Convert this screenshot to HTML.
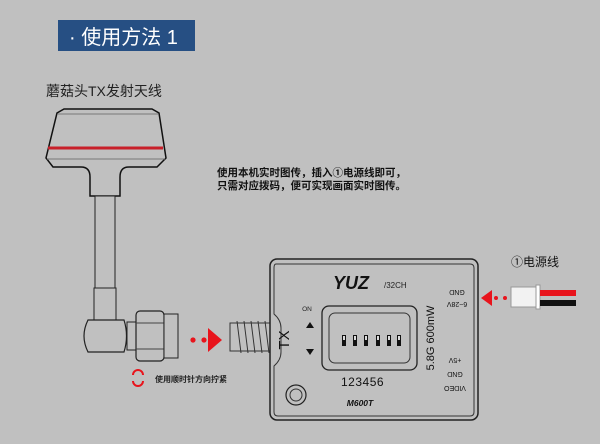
<!DOCTYPE html>
<html><head><meta charset="utf-8"><style>
html,body{margin:0;padding:0;background:#c0c0c0;}
svg{display:block}
</style></head><body>
<svg width="600" height="444" viewBox="0 0 600 444" xmlns="http://www.w3.org/2000/svg" font-family="Liberation Sans, Noto Sans CJK SC, sans-serif">
<rect width="600" height="444" fill="#c0c0c0"/>
<rect x="58" y="20" width="137" height="31" fill="#264f83"/>
<text x="69" y="44" font-size="20" fill="#fff">· 使用方法  1</text>
<text x="46" y="96" font-size="14" fill="#222">蘑菇头TX发射天线</text>
<!-- antenna -->
<path d="M64,109 L152,109 L159,113 L166,158 L157,167 L129,167 Q120,167 120,177 L120,196 L90,196 L90,177 Q90,167 81,167 L53,167 L46,158 L57,113 Z" fill="#c0c0c0" stroke="#111" stroke-width="1.5"/>
<line x1="58" y1="114" x2="158" y2="114" stroke="#777"/>
<line x1="47" y1="159" x2="165" y2="159" stroke="#777"/>
<line x1="48" y1="148" x2="163" y2="148" stroke="#c8202a" stroke-width="3"/>
<rect x="95" y="196" width="20" height="92" fill="#c0c0c0" stroke="#222"/>
<rect x="94" y="288" width="22" height="33" fill="#c0c0c0" stroke="#222"/>
<path d="M88,320 L124,320 Q129,336 124,352 L88,352 Q80,336 88,320 Z" fill="#c0c0c0" stroke="#222" stroke-width="1.2"/>
<rect x="127" y="322" width="10" height="28" fill="#c0c0c0" stroke="#222"/>
<rect x="136" y="311" width="28" height="50" rx="4" fill="#c0c0c0" stroke="#222" stroke-width="1.2"/>
<line x1="136" y1="323" x2="164" y2="323" stroke="#444"/><line x1="136" y1="349" x2="164" y2="349" stroke="#444"/>
<rect x="164" y="314" width="14" height="44" fill="#c0c0c0" stroke="#222"/>
<circle cx="193" cy="340" r="2.6" fill="#e8141c"/><circle cx="204" cy="340" r="2.6" fill="#e8141c"/>
<polygon points="208,328 222,340 208,352" fill="#e8141c"/>
<!-- rotate icon -->
<path d="M133,375 A5,5 0 0 1 143,375" fill="none" stroke="#e8141c" stroke-width="2"/>
<path d="M143,381 A5,5 0 0 1 133,381" fill="none" stroke="#e8141c" stroke-width="2"/>
<text x="155" y="382" font-size="8" fill="#222" font-weight="bold">使用顺时针方向拧紧</text>
<!-- thread -->
<rect x="230" y="323" width="41" height="28" fill="#c0c0c0" stroke="#333"/>
<path d="M237,321 L241,353 M244,321 L248,353 M251,321 L255,353 M258,321 L262,353 M265,321 L269,353" stroke="#333"/>
<!-- text -->
<text x="217" y="176" font-size="10.5" font-weight="bold" fill="#111">使用本机实时图传，插入①电源线即可，</text>
<text x="217" y="189" font-size="10.5" font-weight="bold" fill="#111">只需对应拨码，便可实现画面实时图传。</text>
<!-- module -->
<rect x="270" y="259" width="208" height="161" rx="7" fill="#c0c0c0" stroke="#222" stroke-width="1.5"/>
<path d="M276,264 L470,264 Q474,264 474,268 L474,412 Q474,416 470,416 L278,416 Q274,416 274,412 L274,366 Q281,360 281,352 L281,328 Q281,320 274,314 L274,268 Q274,264 276,264 Z" fill="none" stroke="#333"/>
<text transform="translate(289,340) rotate(-90)" font-size="15" text-anchor="middle" fill="#111">TX</text>
<text x="333" y="289" font-size="18" font-weight="bold" font-style="italic" fill="#111">YUZ</text>
<text x="384" y="288" font-size="8" fill="#222">/32CH</text>
<text x="307" y="311" font-size="6.5" text-anchor="middle" fill="#222">ON</text>
<polygon points="306,328 310,322 314,328" fill="#111"/>
<polygon points="306,349 314,349 310,355" fill="#111"/>
<rect x="322" y="306" width="95" height="64" rx="7" fill="none" stroke="#222" stroke-width="1.3"/>
<rect x="329" y="313" width="81" height="50" rx="6" fill="none" stroke="#333"/>
<g fill="#111">
<rect x="342" y="335" width="4" height="11"/><rect x="353" y="335" width="4" height="11"/><rect x="364" y="335" width="4" height="11"/><rect x="376" y="335" width="4" height="11"/><rect x="387" y="335" width="4" height="11"/><rect x="397" y="335" width="4" height="11"/>
</g>
<g fill="#ddd"><rect x="343" y="336" width="2" height="4"/><rect x="354" y="336" width="2" height="4"/><rect x="365" y="336" width="2" height="4"/><rect x="377" y="336" width="2" height="4"/><rect x="388" y="336" width="2" height="4"/><rect x="398" y="336" width="2" height="4"/></g>
<text x="341" y="386" font-size="12" fill="#111" letter-spacing="0.5">123456</text>
<text transform="translate(434,338) rotate(-90)" font-size="11" text-anchor="middle" fill="#111">5.8G 600mW</text>
<g font-size="7" fill="#111" text-anchor="middle">
<text transform="translate(457,290) rotate(180)">GND</text>
<text transform="translate(457,302) rotate(180)">6~28V</text>
<text transform="translate(455,358) rotate(180)">+5V</text>
<text transform="translate(455,372) rotate(180)">GND</text>
<text transform="translate(455,386) rotate(180)">VIDEO</text>
</g>
<circle cx="296" cy="395" r="10" fill="none" stroke="#222" stroke-width="1.2"/>
<circle cx="296" cy="395" r="6" fill="none" stroke="#333"/>
<text x="360" y="406" font-size="8.5" font-weight="bold" font-style="italic" text-anchor="middle" fill="#111">M600T</text>
<!-- power -->
<text x="511" y="266" font-size="12" fill="#111">①电源线</text>
<polygon points="481,298 492,290 492,306" fill="#e8141c"/>
<circle cx="496" cy="298" r="2" fill="#e8141c"/><circle cx="505" cy="298" r="2" fill="#e8141c"/>
<rect x="511" y="287" width="27" height="20" fill="#f2f2f2" stroke="#999"/>
<rect x="536" y="285" width="4" height="24" fill="#fff" stroke="#999"/>
<rect x="540" y="290" width="36" height="6" fill="#e8141c"/>
<rect x="540" y="300" width="36" height="6" fill="#111"/>
</svg>
</body></html>
